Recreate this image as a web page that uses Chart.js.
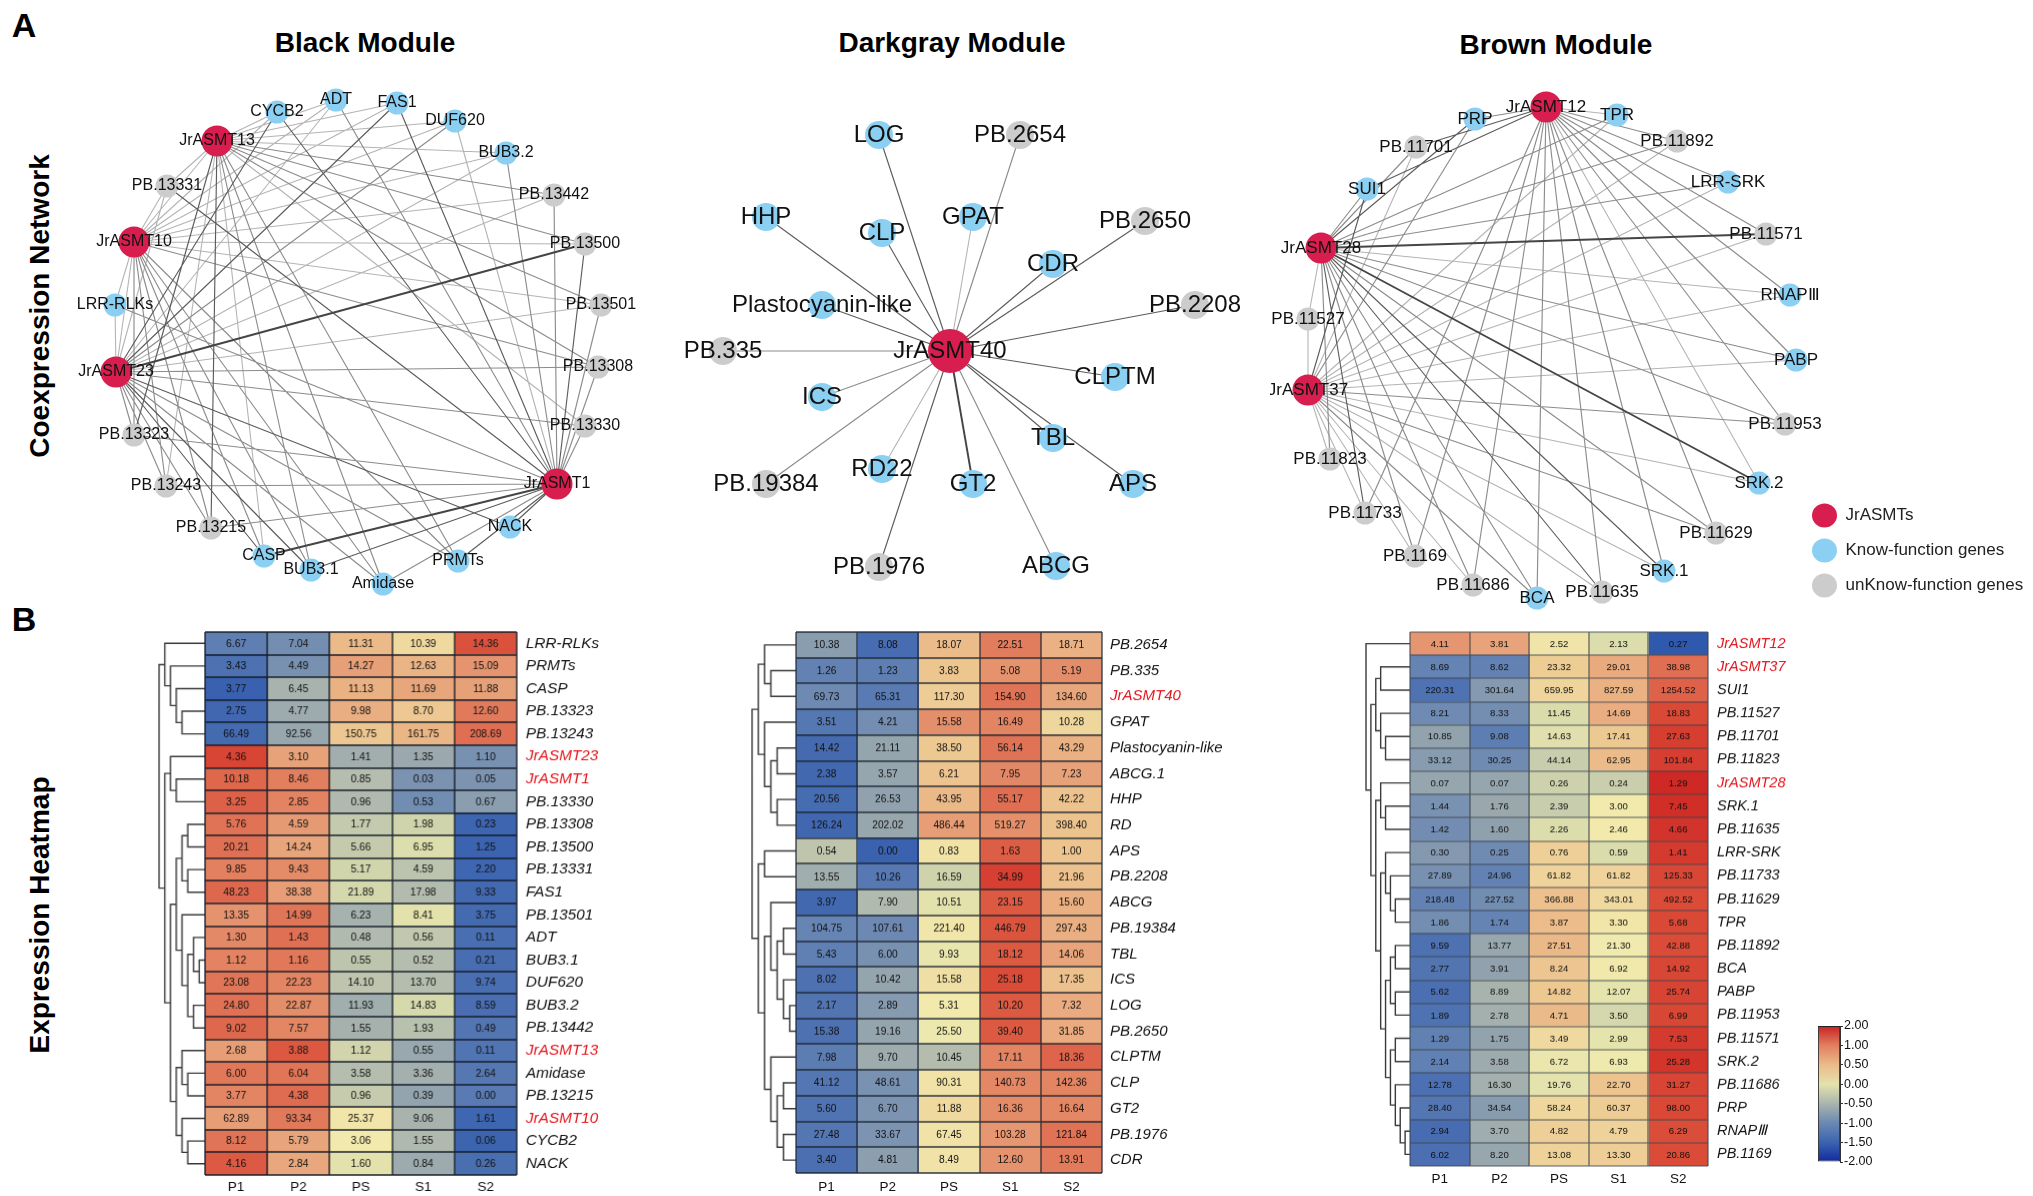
<!DOCTYPE html>
<html><head><meta charset="utf-8">
<script src="https://cdn.jsdelivr.net/npm/chart.js@4"></script>
<style>
html,body{margin:0;padding:0;background:#fff;width:2033px;height:1196px;overflow:hidden;font-family:"Liberation Sans",Arial,sans-serif}
canvas{position:absolute;display:block}
.t{position:absolute;font-weight:bold;color:#000;white-space:nowrap;transform:translate(-50%,-50%)}
.r{transform:translate(-50%,-50%) rotate(-90deg)}
</style></head><body>
<div class="t" style="left:24px;top:25px;font-size:34px">A</div>
<div class="t" style="left:24px;top:619px;font-size:34px">B</div>
<div class="t" style="left:365px;top:43px;font-size:28px">Black Module</div>
<div class="t" style="left:952px;top:43px;font-size:28px">Darkgray Module</div>
<div class="t" style="left:1556px;top:45px;font-size:28px">Brown Module</div>
<div class="t r" style="left:40px;top:306px;font-size:28px">Coexpression Network</div>
<div class="t r" style="left:40px;top:915px;font-size:28px">Expression Heatmap</div>
<script>
const FONT = '"Liberation Sans", Arial, sans-serif';
const samples = ["P1","P2","PS","S1","S2"];
const colorbarLabels = ["-2.00","-1.50","-1.00","-0.50","0.00","0.50","1.00","2.00"];

// ---- network nodes: names and positions
const blackNames = ["CYCB2","ADT","FAS1","DUF620","BUB3.2","PB.13442","PB.13500","PB.13501","PB.13308","PB.13330","JrASMT1","NACK","PRMTs","Amidase","BUB3.1","CASP","PB.13215","PB.13243","PB.13323","JrASMT23","LRR-RLKs","JrASMT10","PB.13331","JrASMT13"];
const blackX = [277,336,397,455,506,554,585,601,598,585,557,510,458,383,311,264,211,166,134,116,115,134,167,217];
const blackY = [112,100,103,121,153,195,244,305,367,426,484,527,561,584,570,556,528,486,435,372,305,242,186,141];
const blackLinks = [
 ["JrASMT13","CYCB2:1 ADT:1 FAS1:1 DUF620:1 BUB3.2:1 PB.13442:2 PB.13500:2 PB.13501:2 PB.13308:2 PB.13330:1 PRMTs:2 Amidase:2 BUB3.1:2 CASP:1 PB.13215:3 PB.13243:1 PB.13323:3 PB.13331:1 JrASMT10:1"],
 ["JrASMT10","CYCB2:1 ADT:1 FAS1:1 DUF620:1 BUB3.2:1 PB.13442:1 PB.13500:1 PB.13501:1 PB.13308:2 PRMTs:2 Amidase:2 BUB3.1:2 CASP:2 PB.13215:2 PB.13243:2 PB.13323:2 LRR-RLKs:1 PB.13331:1 JrASMT23:1"],
 ["JrASMT23","CYCB2:3 ADT:1 FAS1:3 DUF620:2 BUB3.2:1 PB.13442:1 PB.13500:4 PB.13501:1 PB.13308:2 PB.13330:2 NACK:3 PRMTs:2 Amidase:2 BUB3.1:3 CASP:3 PB.13215:2 PB.13243:2 PB.13323:2 LRR-RLKs:1 PB.13331:1"],
 ["JrASMT1","CYCB2:3 ADT:2 FAS1:3 DUF620:1 BUB3.2:2 PB.13442:2 PB.13500:3 PB.13501:2 PB.13308:2 PB.13330:2 NACK:3 PRMTs:3 Amidase:2 BUB3.1:3 CASP:4 PB.13215:2 PB.13243:2 PB.13323:2 PB.13331:3 LRR-RLKs:2"]
];
const grayNames = ["JrASMT40","LOG","PB.2654","HHP","CLP","GPAT","PB.2650","CDR","Plastocyanin-like","PB.2208","PB.335","ICS","CLPTM","TBL","RD22","GT2","APS","PB.19384","PB.1976","ABCG"];
const grayX = [950,879,1020,766,882,973,1145,1053,822,1195,723,822,1115,1053,882,973,1133,766,879,1056];
const grayY = [351,135,135,217,233,217,221,264,305,305,351,397,377,438,469,484,484,484,567,566];
const grayLinks = [
 ["JrASMT40","LOG:3 PB.2654:2 HHP:3 CLP:3 GPAT:1 PB.2650:3 CDR:3 Plastocyanin-like:3 PB.2208:3 PB.335:2 ICS:2 CLPTM:3 TBL:3 RD22:1 GT2:4 APS:3 PB.19384:2 PB.1976:3 ABCG:2"]
];
const brownNames = ["JrASMT12","TPR","PB.11892","LRR-SRK","PB.11571","RNAPⅢ","PABP","PB.11953","SRK.2","PB.11629","SRK.1","PB.11635","BCA","PB.11686","PB.1169","PB.11733","PB.11823","JrASMT37","PB.11527","JrASMT28","SUI1","PB.11701","PRP"];
const brownX = [1546,1617,1677,1728,1766,1790,1796,1785,1759,1716,1664,1602,1537,1473,1415,1365,1330,1308,1308,1321,1367,1416,1475];
const brownY = [107,115,141,182,234,295,360,424,483,533,571,592,598,585,556,513,459,390,319,248,189,147,119];
const brownLinks = [
 ["JrASMT12","PRP:2 TPR:1 PB.11892:2 LRR-SRK:2 PB.11571:2 RNAPⅢ:2 PABP:2 PB.11953:2 SRK.2:1 PB.11629:2 SRK.1:2 PB.11635:2 BCA:2 PB.11686:2 PB.1169:2 PB.11733:2 SUI1:3 PB.11701:3"],
 ["JrASMT28","SUI1:2 PB.11701:2 PRP:3 TPR:2 PB.11892:2 LRR-SRK:2 PB.11571:4 RNAPⅢ:1 PABP:2 PB.11953:2 SRK.2:4 PB.11629:2 SRK.1:3 PB.11635:3 BCA:2 PB.11686:2 PB.1169:2 PB.11733:3 PB.11823:2 PB.11527:1"],
 ["JrASMT37","SUI1:3 PB.11701:1 PRP:2 TPR:1 PB.11892:1 LRR-SRK:1 PB.11571:1 RNAPⅢ:1 PABP:1 PB.11953:2 SRK.2:1 PB.11629:2 SRK.1:1 PB.11635:1 BCA:2 PB.11686:1 PB.1169:1 PB.11733:1 PB.11823:1 PB.11527:1"]
];

// ---- heatmaps
const blackGenes = ["LRR-RLKs","PRMTs","CASP","PB.13323","PB.13243","JrASMT23","JrASMT1","PB.13330","PB.13308","PB.13500","PB.13331","FAS1","PB.13501","ADT","BUB3.1","DUF620","BUB3.2","PB.13442","JrASMT13","Amidase","PB.13215","JrASMT10","CYCB2","NACK"];
const blackValues = [
 [6.67,7.04,11.31,10.39,14.36],[3.43,4.49,14.27,12.63,15.09],[3.77,6.45,11.13,11.69,11.88],[2.75,4.77,9.98,8.70,12.60],
 [66.49,92.56,150.75,161.75,208.69],[4.36,3.10,1.41,1.35,1.10],[10.18,8.46,0.85,0.03,0.05],[3.25,2.85,0.96,0.53,0.67],
 [5.76,4.59,1.77,1.98,0.23],[20.21,14.24,5.66,6.95,1.25],[9.85,9.43,5.17,4.59,2.20],[48.23,38.38,21.89,17.98,9.33],
 [13.35,14.99,6.23,8.41,3.75],[1.30,1.43,0.48,0.56,0.11],[1.12,1.16,0.55,0.52,0.21],[23.08,22.23,14.10,13.70,9.74],
 [24.80,22.87,11.93,14.83,8.59],[9.02,7.57,1.55,1.93,0.49],[2.68,3.88,1.12,0.55,0.11],[6.00,6.04,3.58,3.36,2.64],
 [3.77,4.38,0.96,0.39,0.00],[62.89,93.34,25.37,9.06,1.61],[8.12,5.79,3.06,1.55,0.06],[4.16,2.84,1.60,0.84,0.26]];
const grayGenes = ["PB.2654","PB.335","JrASMT40","GPAT","Plastocyanin-like","ABCG.1","HHP","RD","APS","PB.2208","ABCG","PB.19384","TBL","ICS","LOG","PB.2650","CLPTM","CLP","GT2","PB.1976","CDR"];
const grayValues = [
 [10.38,8.08,18.07,22.51,18.71],[1.26,1.23,3.83,5.08,5.19],[69.73,65.31,117.30,154.90,134.60],[3.51,4.21,15.58,16.49,10.28],
 [14.42,21.11,38.50,56.14,43.29],[2.38,3.57,6.21,7.95,7.23],[20.56,26.53,43.95,55.17,42.22],[126.24,202.02,486.44,519.27,398.40],
 [0.54,0.00,0.83,1.63,1.00],[13.55,10.26,16.59,34.99,21.96],[3.97,7.90,10.51,23.15,15.60],[104.75,107.61,221.40,446.79,297.43],
 [5.43,6.00,9.93,18.12,14.06],[8.02,10.42,15.58,25.18,17.35],[2.17,2.89,5.31,10.20,7.32],[15.38,19.16,25.50,39.40,31.85],
 [7.98,9.70,10.45,17.11,18.36],[41.12,48.61,90.31,140.73,142.36],[5.60,6.70,11.88,16.36,16.64],[27.48,33.67,67.45,103.28,121.84],[3.40,4.81,8.49,12.60,13.91]];
const brownGenes = ["JrASMT12","JrASMT37","SUI1","PB.11527","PB.11701","PB.11823","JrASMT28","SRK.1","PB.11635","LRR-SRK","PB.11733","PB.11629","TPR","PB.11892","BCA","PABP","PB.11953","PB.11571","SRK.2","PB.11686","PRP","RNAPⅢ","PB.1169"];
const brownValues = [
 [4.11,3.81,2.52,2.13,0.27],[8.69,8.62,23.32,29.01,38.98],[220.31,301.64,659.95,827.59,1254.52],[8.21,8.33,11.45,14.69,18.83],
 [10.85,9.08,14.63,17.41,27.63],[33.12,30.25,44.14,62.95,101.84],[0.07,0.07,0.26,0.24,1.29],[1.44,1.76,2.39,3.00,7.45],
 [1.42,1.60,2.26,2.46,4.66],[0.30,0.25,0.76,0.59,1.41],[27.89,24.96,61.82,61.82,125.33],[218.48,227.52,366.88,343.01,492.52],
 [1.86,1.74,3.87,3.30,5.68],[9.59,13.77,27.51,21.30,42.88],[2.77,3.91,8.24,6.92,14.92],[5.62,8.89,14.82,12.07,25.74],
 [1.89,2.78,4.71,3.50,6.99],[1.29,1.75,3.49,2.99,7.53],[2.14,3.58,6.72,6.93,25.28],[12.78,16.30,19.76,22.70,31.27],
 [28.40,34.54,58.24,60.37,98.00],[2.94,3.70,4.82,4.79,6.29],[6.02,8.20,13.08,13.30,20.86]];

// ---- dendrograms: [level, childA, childB], a bare number is a row index
const blackTree = [0,[1,0,[2,1,[3,2,[4,3,4]]]],[1,[2,5,[3,6,7]],[2,[3,[4,[5,8,9],[5,10,11]],[4,12,[5,[6,13,[7,14,15]],[6,16,17]]]],[3,[4,18,[5,19,20]],[4,21,[5,22,23]]]]]];
const grayTree = [0,[1,[2,0,[3,1,2]],[2,3,[3,[4,4,5],[4,6,7]]]],[1,[2,8,9],[2,[3,10,[4,[5,11,12],[5,13,[6,14,15]]]],[3,16,[4,[5,17,18],[5,19,20]]]]]];
const brownTree = [0,0,[1,[2,[3,1,2],[3,3,[4,4,5]]],[2,[3,6,[4,7,8]],[3,[4,9,[5,10,[6,11,12]]],[4,[5,[6,13,14],[6,15,16]],[5,[6,17,18],[6,19,[7,20,[8,21,22]]]]]]]]];

// ---- colour scale
const stopZ = [-2,-1.7,-1.2,-1,-0.7,-0.4,-0.1,0.1,0.4,0.7,1,1.3,1.7,2];
const stopC = ["#0f2a9e","#2c57ad","#5174b2","#6b88b3","#94a4ae","#b4bcae","#d5d8ac","#f2ecae","#edc690","#e8a67c","#e27f5f","#da4c38","#cf2a25","#c82224"];
function hex(c){return [1,3,5].map(i=>parseInt(c.substr(i,2),16));}
function zColor(z){
  if(z<=stopZ[0])return stopC[0];
  for(let i=1;i<stopZ.length;i++){ if(z<=stopZ[i]){
    const t=(z-stopZ[i-1])/(stopZ[i]-stopZ[i-1]),a=hex(stopC[i-1]),b=hex(stopC[i]);
    return "rgb("+a.map((v,k)=>Math.round(v+(b[k]-v)*t)).join(",")+")"; } }
  return stopC[stopC.length-1];
}
function rowZ(row){
  const l=row.map(v=>Math.log2(v+1)),m=l.reduce((a,b)=>a+b,0)/l.length;
  const s=Math.sqrt(l.reduce((a,b)=>a+(b-m)*(b-m),0)/(l.length-1));
  return l.map(v=>(v-m)/s);
}
function place(left,top,w,h){
  const c=document.createElement("canvas");
  c.width=w;c.height=h;c.style.left=left+"px";c.style.top=top+"px";c.style.width=w+"px";c.style.height=h+"px";
  document.body.appendChild(c);return c;
}
function noPad(s){s.paddingTop=0;s.paddingBottom=0;s.paddingLeft=0;s.paddingRight=0;}
Chart.defaults.animation=false;
Chart.defaults.responsive=false;
Chart.defaults.font.family=FONT;
Chart.defaults.layout.autoPadding=false;

// ---- network chart
const edgeStyle={1:["#b4b4b4",1.1],2:["#8c8c8c",1.15],3:["#5c5c5c",1.15],4:["#454545",1.9]};
function network(box,names,xs,ys,links,fs,hubR,geneR){
  const idx=Object.fromEntries(names.map((n,i)=>[n,i]));
  const seg={1:[],2:[],3:[],4:[]};
  links.forEach(([hub,list])=>list.split(" ").forEach(item=>{
    const [t,w]=item.split(":");const a=idx[hub],b=idx[t];
    seg[w].push({x:xs[a],y:ys[a]},{x:xs[b],y:ys[b]},{x:NaN,y:NaN});
  }));
  const edges=[1,2,3,4].map(w=>({type:"scatter",showLine:true,data:seg[w],borderColor:edgeStyle[w][0],borderWidth:edgeStyle[w][1],pointRadius:0,clip:false,order:6-w}));
  const nodes={type:"scatter",data:names.map((n,i)=>({x:xs[i],y:ys[i]})),order:0,clip:false,pointBorderWidth:0,
    pointRadius:names.map(n=>/^JrASMT/.test(n)?hubR:geneR),
    pointBackgroundColor:names.map(n=>/^JrASMT/.test(n)?"#d81e4f":/^PB\./.test(n)?"#cccccc":"#8bd0f3")};
  const labels={id:"nodeLabels",afterDatasetsDraw(ch){
    const c=ch.ctx;c.save();c.font=fs+"px "+FONT;c.fillStyle="#111";c.textAlign="center";c.textBaseline="middle";
    names.forEach((n,i)=>c.fillText(n,ch.scales.x.getPixelForValue(xs[i]),ch.scales.y.getPixelForValue(ys[i])));
    c.restore();}};
  new Chart(place(box[0],box[1],box[2],box[3]),{type:"scatter",data:{datasets:[nodes,...edges]},plugins:[labels],
    options:{layout:{padding:0},plugins:{legend:{display:false},tooltip:{enabled:false}},
      scales:{x:{display:false,min:box[0],max:box[0]+box[2]},y:{display:false,min:box[1],max:box[1]+box[3],reverse:true}}}});
}
network([60,70,600,540],blackNames,blackX,blackY,blackLinks,16,15.5,11.5);
network([670,70,590,540],grayNames,grayX,grayY,grayLinks,24,22,14);
network([1270,70,560,545],brownNames,brownX,brownY,brownLinks,17,15.5,11.5);

// ---- dendrogram chart
function dendro(x0,x1,top,bottom,tree,n,depth){
  const pts=[];
  function walk(node){
    if(typeof node==="number")return {l:depth,y:node};
    const a=walk(node[1]),b=walk(node[2]),l=node[0],y=(a.y+b.y)/2;
    pts.push({x:a.l,y:a.y},{x:l,y:a.y},{x:l,y:b.y},{x:b.l,y:b.y},{x:NaN,y:NaN});
    return {l,y};
  }
  walk(tree);
  new Chart(place(x0-2,top-2,x1-x0+4,bottom-top+4),{type:"scatter",
    data:{datasets:[{data:pts,showLine:true,borderColor:"#3a3a3a",borderWidth:1.4,pointRadius:0,clip:false}]},
    options:{layout:{padding:2},plugins:{legend:{display:false},tooltip:{enabled:false}},
      scales:{x:{display:false,min:0,max:depth},y:{display:false,min:-0.5,max:n-0.5,reverse:true}}}});
}
dendro(159.4,204.8,632.3,1175,blackTree,24,8);
dendro(752,795.9,632.1,1172.9,grayTree,21,7);
dendro(1366,1410.1,632.1,1165.6,brownTree,23,9);

// ---- heatmap chart
function heatmap(left,right,top,bottom,labelRoom,genes,values,fsCell,fsGene,fsAxis,geneGap,axisGap,axisH,lineCol,lineW){
  const W=right-left,H=bottom-top,pad=2;
  const z=values.map(rowZ);
  const datasets=samples.map((s,c)=>({label:s,data:genes.map(()=>1),
    backgroundColor:genes.map((g,r)=>zColor(z[r][c])),borderWidth:0,inflateAmount:0.5,
    barPercentage:1,categoryPercentage:1,stack:"row"}));
  const text={id:"cellText",afterDatasetsDraw(ch){
    const c=ch.ctx,xs=ch.scales.x,ys=ch.scales.y;c.save();
    c.strokeStyle=lineCol;c.lineWidth=lineW;c.beginPath();
    for(let i=0;i<=samples.length;i++){const p=Math.round(xs.getPixelForValue(i));c.moveTo(p,ys.getPixelForValue(-0.5));c.lineTo(p,ys.getPixelForValue(genes.length-0.5));}
    for(let i=0;i<=genes.length;i++){const p=Math.round(ys.getPixelForValue(i-0.5));c.moveTo(xs.getPixelForValue(0),p);c.lineTo(xs.getPixelForValue(samples.length),p);}
    c.stroke();
    c.font=fsCell+"px "+FONT;c.fillStyle="#111";c.textAlign="center";c.textBaseline="middle";
    samples.forEach((s,k)=>ch.getDatasetMeta(k).data.forEach((el,r)=>c.fillText(values[r][k].toFixed(2),(el.x+el.base)/2,el.y+0.5)));
    c.restore();}};
  new Chart(place(left-pad,top-pad,W+pad+labelRoom,H+pad+axisH),{type:"bar",data:{labels:genes,datasets},plugins:[text],
    options:{indexAxis:"y",layout:{padding:{left:pad,top:pad,right:0,bottom:0}},plugins:{legend:{display:false},tooltip:{enabled:false}},
      scales:{
        x:{type:"linear",stacked:true,min:0,max:5,position:"bottom",grid:{display:false,drawTicks:false},border:{display:false},
           afterBuildTicks:s=>{s.ticks=samples.map((_,i)=>({value:i+0.5}));},
           afterFit:s=>{s.height=axisH;noPad(s);},
           ticks:{autoSkip:false,maxRotation:0,padding:axisGap,color:"#111",font:{size:fsAxis},callback:(v,i)=>samples[i]}},
        y:{type:"category",stacked:true,position:"right",grid:{display:false,drawTicks:false},border:{display:false},
           afterFit:s=>{s.width=labelRoom;noPad(s);},
           ticks:{autoSkip:false,padding:geneGap,font:{size:fsGene,style:"italic"},
             color:c=>/^JrASMT/.test(genes[c.index])?"#e3141c":"#111"}}
      }}});
}
heatmap(204.8,516.8,632.3,1175,110,blackGenes,blackValues,10.3,15.3,13.5,9,4,21,"rgba(18,26,38,.95)",1.4);
heatmap(795.9,1101.9,632.1,1172.9,150,grayGenes,grayValues,10.2,15,13.5,8,6,23,"rgba(28,36,48,.9)",1.3);
heatmap(1410.1,1708.5,632.1,1165.6,105,brownGenes,brownValues,9.6,14.5,13.5,9,5,24,"rgba(60,68,78,.85)",1.2);

// ---- colour bar
new Chart(place(1816,1015,72,158),{type:"bar",
  data:{labels:["z"],datasets:[{data:[[0,7]],barPercentage:1,categoryPercentage:1,borderWidth:0.9,borderColor:"#222",borderSkipped:false,inflateAmount:0,
    backgroundColor:c=>{const a=c.chart.chartArea;if(!a)return "#ccc";
      const g=c.chart.ctx.createLinearGradient(0,a.bottom,0,a.top);
      const vals=[-2,-1.5,-1,-0.5,0,0.5,1,2];
      vals.forEach((v,i)=>g.addColorStop(i/7,zColor(v)));return g;}}]},
  options:{layout:{padding:{left:2,top:11,bottom:11,right:0}},plugins:{legend:{display:false},tooltip:{enabled:false}},
    scales:{x:{display:false},
      y:{position:"right",min:0,max:7,afterFit:s=>{s.width=48;noPad(s);},
         afterBuildTicks:s=>{s.ticks=colorbarLabels.map((_,i)=>({value:i}));},
         grid:{drawOnChartArea:false,drawTicks:true,tickLength:3,color:"#333"},border:{display:true,color:"#333"},
         ticks:{padding:1,color:"#111",font:{size:12.5},autoSkip:false,callback:(v,i)=>colorbarLabels[i]}}}}});

// ---- legend
new Chart(place(1794,489,239,300),{type:"scatter",
  data:{datasets:[{label:"JrASMTs",data:[],backgroundColor:"#d81e4f",borderWidth:0},
                  {label:"Know-function genes",data:[],backgroundColor:"#8bd0f3",borderWidth:0},
                  {label:"unKnow-function genes",data:[],backgroundColor:"#cccccc",borderWidth:0}]},
  options:{layout:{padding:0},plugins:{tooltip:{enabled:false},
    legend:{position:"top",align:"start",onClick:null,labels:{usePointStyle:true,pointStyle:"circle",pointStyleWidth:25,boxHeight:17,padding:18,color:"#222",font:{size:17}}}},
    scales:{x:{display:false},y:{display:false}}}});
</script>
</body></html>
